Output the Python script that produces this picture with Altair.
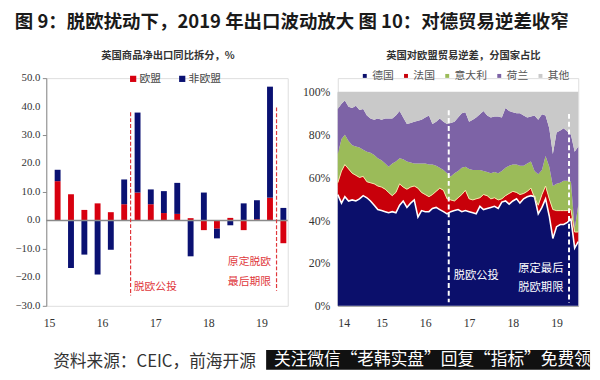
import altair as alt
import pandas as pd

# ---------------- text ----------------
header = "图 9：脱欧扰动下，2019 年出口波动放大 图 10：对德贸易逆差收窄"
left_title = "英国商品净出口同比拆分，%"
right_title = "英国对欧盟贸易逆差，分国家占比"
source_note = "资料来源：CEIC，前海开源"
watermark = "关注微信“老韩实盘”回复“指标”免费领"

# ---------------- left chart data (quarterly, %) ----------------
q_dates = ["2015-03-01", "2015-06-01", "2015-09-01", "2015-12-01",
           "2016-03-01", "2016-06-01", "2016-09-01", "2016-12-01",
           "2017-03-01", "2017-06-01", "2017-09-01", "2017-12-01",
           "2018-03-01", "2018-06-01", "2018-09-01", "2018-12-01",
           "2019-03-01", "2019-06-01"]
eu = [13.8, 9.2, 3.7, 6.0, 2.9, 5.7, 9.8, 5.7, 2.6, 2.3, 0.8, -3.4,
      -2.9, 0.9, -3.4, 0.4, 8.0, -8.0]
non_eu = [4.0, -16.7, -12.0, -19.0, -10.3, 8.7, 28.1, 5.2, 7.7, 10.9, -12.6, 9.8,
          -3.4, -1.7, 6.0, 6.7, 39.0, 4.4]
bar_series = ["欧盟", "非欧盟"]
bar_colors = ["#d7000f", "#0a1172"]
left_ticks = [2015, 2016, 2017, 2018, 2019]
left_y_ticks = [-30, -20, -10, 0, 10, 20, 30, 40, 50]

event_dates = ["2016-07-15", "2019-04-15"]
left_event_top = [38.0, 39.7]
left_event_bottom = [-26.4, -24.7]
left_note_a = ["脱欧公投"]
left_note_a_date = ["2016-08-06"]
left_note_a_y = [-23.4]
left_note_b = ["原定脱欧", "最后期限"]
left_note_b_date = ["2019-03-08", "2019-03-08"]
left_note_b_y = [-14.5, -21.6]

# ---------------- right chart data (monthly share, cumulative boundaries %) ----------------
months = pd.date_range("2014-01-01", periods=67, freq="MS")
countries = ["德国", "法国", "意大利", "荷兰", "其他"]
country_colors = ["#0b0f6b", "#c8000a", "#9bbb59", "#7d63a6", "#c9c9c9"]
de_top = [52, 48, 51, 49, 49.5, 49, 50, 51.5, 50.5, 49,
          47, 45, 44.5, 44, 43.5, 44, 43.5, 47, 49, 46,
          48, 49.5, 41.5, 44.5, 44, 44, 45.5, 46, 45, 44,
          43, 44, 44.5, 45, 44, 44.5, 44, 43.5, 43, 46.5,
          45, 45.5, 46, 46.5, 45.5, 48.5, 49, 47.5, 49, 50,
          48, 50, 51, 51.5, 51, 43, 46, 50, 42, 31.5,
          37, 38, 38, 39, 40.5, 27, 30]
fr_top = [57.5, 63, 66, 64, 62, 61, 60, 60.5, 58, 57.5,
          57, 56, 55.5, 54.5, 53, 51.5, 53, 57, 55.5, 54.5,
          55.5, 56, 55, 53, 52, 51, 52, 53.5, 55, 54,
          50, 49.5, 49, 50.5, 52, 54, 50, 49.5, 50, 50.5,
          52, 51.5, 50, 50.5, 49.5, 50, 51.5, 52.5, 53.5, 53,
          52, 52.5, 53.5, 55, 50.5, 47, 52, 56, 50, 45,
          44.5, 44.5, 44.5, 44.5, 45, 34.5, 34.5]
it_top = [71, 78, 80, 77, 75, 74.5, 74, 73, 72, 71.5,
          70.5, 69, 68, 66.5, 65, 66.5, 67.5, 69, 68.5, 67.5,
          67, 66.5, 66.5, 66.5, 66.5, 66, 66, 65.5, 64.5, 63.5,
          62, 60.5, 62, 63, 64.5, 65, 64, 63.5, 63.5, 63.5,
          63, 62.5, 62, 62.5, 62, 63, 64.5, 65.5, 66, 66,
          65.5, 65.5, 66.5, 67.5, 63, 61.5, 63.5, 70, 65, 56,
          57, 57.5, 58.5, 58.5, 58, 36, 47]
nl_top = [92, 94.5, 96, 93, 92.5, 93.5, 91.5, 92, 89, 87.5,
          87, 87.5, 87, 87.5, 87.5, 87.5, 89, 91, 88, 85,
          85.5, 86, 86.5, 87, 88, 89, 85, 86, 87.5, 86,
          85, 85.5, 86, 88, 90, 90.5, 86, 87, 88, 89.5,
          91, 89, 88, 88.5, 88.5, 88, 92.5, 91, 90.5, 90,
          90, 89, 88, 88.5, 89, 87, 89.5, 89, 83, 71,
          81, 82, 83, 81.5, 80, 72, 74.5]
right_ticks = [2014, 2015, 2016, 2017, 2018, 2019]
right_y_ticks = [0, 20, 40, 60, 80, 100]
right_event_top = [91.4, 89.7]
right_event_bottom = [1.7, 1.5]
right_note_a = ["脱欧公投"]
right_note_a_date = ["2016-08-25"]
right_note_a_y = [13.8]
right_note_b = ["原定最后", "脱欧期限"]
right_note_b_date = ["2019-02-27", "2019-02-27"]
right_note_b_y = [17.3, 8.1]

# ---------------- tables ----------------
bar_rows = []
for d, a, b in zip(q_dates, eu, non_eu):
    bar_rows.append({"date": d, "series": bar_series[0], "value": a, "ord": 0})
    bar_rows.append({"date": d, "series": bar_series[1], "value": b, "ord": 1})
bar_df = pd.DataFrame(bar_rows)

bounds = [[0] * len(months), de_top, fr_top, it_top, nl_top, [100] * len(months)]
area_rows = []
for k, c in enumerate(countries):
    for i, d in enumerate(months):
        area_rows.append({"date": d.strftime("%Y-%m-%d"), "country": c,
                          "lo": bounds[k][i], "hi": bounds[k + 1][i], "ord": k})
area_df = pd.DataFrame(area_rows)
line_df = pd.DataFrame({"date": [d.strftime("%Y-%m-%d") for d in months],
                        "de": de_top, "fr": fr_top})

SERIF = "Liberation Serif"
CJK = "Noto Sans CJK SC"

# ---------------- left chart ----------------
lx_scale = alt.Scale(domain=["2014-12-13", "2019-07-01"], padding=0)
lx = alt.X("date:T", scale=lx_scale,
           axis=alt.Axis(values=[alt.DateTime(year=y, month=1, date=1) for y in left_ticks],
                         format="%y", title=None, grid=False, domain=False, ticks=False, zindex=1,
                         labelPadding=12, labelFont=SERIF, labelFontSize=12, labelColor="#333"))
ly_scale = alt.Scale(domain=[-30, 50], nice=False)

bars = alt.Chart(bar_df).mark_bar(size=6).encode(
    x=lx,
    y=alt.Y("value:Q", stack="zero", scale=ly_scale,
            axis=alt.Axis(values=left_y_ticks, labels=False, title=None, grid=False, zindex=1,
                          tickSize=4, domainColor="#8a8a8a", tickColor="#8a8a8a")),
    color=alt.Color("series:N", scale=alt.Scale(domain=bar_series, range=bar_colors),
                    legend=alt.Legend(orient="none", legendX=83, legendY=-5, direction="horizontal",
                                      title=None, symbolType="square", symbolSize=40,
                                      symbolStrokeWidth=0, labelFont=CJK, labelFontSize=11,
                                      labelColor="#444", columnPadding=16, padding=0, labelOffset=1)),
    order=alt.Order("ord:Q"),
)
y_labels = alt.Chart(pd.DataFrame({"v": left_y_ticks})).mark_text(
    align="right", baseline="middle", font=SERIF, fontSize=11, color="#333").encode(
    x=alt.value(-6), y=alt.Y("v:Q", scale=ly_scale), text=alt.Text("v:Q", format=".1f"))
zero_rule = alt.Chart(pd.DataFrame({"y": [0]})).mark_rule(color="#8a8a8a", strokeWidth=1.5).encode(
    y=alt.Y("y:Q", scale=ly_scale))
left_events = alt.Chart(pd.DataFrame({"date": event_dates, "top": left_event_top,
                                      "bottom": left_event_bottom})).mark_rule(
    color="#e0383c", strokeDash=[4, 2], strokeWidth=1.2).encode(
    x=alt.X("date:T", scale=lx_scale), y=alt.Y("top:Q", scale=ly_scale), y2="bottom:Q")
left_text_a = alt.Chart(pd.DataFrame({"date": left_note_a_date, "y": left_note_a_y, "t": left_note_a})).mark_text(
    align="left", baseline="middle", font=CJK, fontSize=11, color="#e0383c").encode(
    x=alt.X("date:T", scale=lx_scale), y=alt.Y("y:Q", scale=ly_scale), text="t:N")
left_text_b = alt.Chart(pd.DataFrame({"date": left_note_b_date, "y": left_note_b_y, "t": left_note_b})).mark_text(
    align="right", baseline="middle", font=CJK, fontSize=11, color="#e0383c").encode(
    x=alt.X("date:T", scale=lx_scale), y=alt.Y("y:Q", scale=ly_scale), text="t:N")

canvas = alt.Chart(pd.DataFrame({"a": [0]})).mark_rect(color="white", opacity=0).encode(
    x=alt.value(-38), x2=alt.value(554), y=alt.value(-67), y2=alt.value(297))
header_text = alt.Chart(pd.DataFrame({"t": [header]})).mark_text(
    align="left", baseline="middle", font=CJK, fontSize=18.8, fontWeight="bold", color="#1a1a1a").encode(
    x=alt.value(-32), y=alt.value(-57), text="t:N")
left_title_text = alt.Chart(pd.DataFrame({"t": [left_title]})).mark_text(
    align="center", baseline="middle", font=CJK, fontSize=10.5, fontWeight="bold", color="#333").encode(
    x=alt.value(124), y=alt.value(-22), text="t:N")
source_text = alt.Chart(pd.DataFrame({"t": [source_note]})).mark_text(
    align="left", baseline="middle", font=CJK, fontSize=17, color="#333").encode(
    x=alt.value(7), y=alt.value(289), text="t:N")
black_box = alt.Chart(pd.DataFrame({"a": [0]})).mark_rect(color="#111111").encode(
    x=alt.value(224), x2=alt.value(554), y=alt.value(277), y2=alt.value(297))
watermark_text = alt.Chart(pd.DataFrame({"t": [watermark]})).mark_text(
    align="left", baseline="middle", font=CJK, fontSize=17, color="white").encode(
    x=alt.value(232), y=alt.value(287), text="t:N")

left = alt.layer(canvas, bars, y_labels, zero_rule, left_events, left_text_a, left_text_b,
                 header_text, left_title_text, source_text, black_box, watermark_text
                 ).properties(width=246, height=232)

# ---------------- right chart ----------------
rx_scale = alt.Scale(domain=["2014-01-01", "2019-07-01"], padding=0)
rx = alt.X("date:T", scale=rx_scale,
           axis=alt.Axis(values=[alt.DateTime(year=y, month=1, date=1) for y in right_ticks],
                         format="%y", title=None, grid=False, ticks=False, domainColor="#9a9a9a",
                         labelPadding=12, labelFont=SERIF, labelFontSize=12, labelColor="#333"))
ry_scale = alt.Scale(domain=[0, 100], range=[232, 14], nice=False)

areas = alt.Chart(area_df).mark_area(interpolate="linear").encode(
    x=rx,
    y=alt.Y("lo:Q", stack=None, scale=ry_scale,
            axis=alt.Axis(values=right_y_ticks, labelExpr="datum.value + '%'", title=None, grid=False,
                          ticks=False, labelPadding=8, domainColor="#9a9a9a",
                          labelFont=SERIF, labelFontSize=12, labelColor="#333")),
    y2="hi:Q",
    color=alt.Color("country:N", sort=countries,
                    scale=alt.Scale(domain=countries, range=country_colors),
                    legend=alt.Legend(orient="none", legendX=22, legendY=-8, direction="horizontal",
                                      title=None, symbolType="square", symbolSize=16,
                                      symbolStrokeWidth=0, labelFont=CJK, labelFontSize=11,
                                      labelColor="#555", columnPadding=7, padding=0, labelOffset=2)),
    detail="ord:N",
)
de_line = alt.Chart(line_df).mark_line(color="white", strokeWidth=1.6).encode(
    x=alt.X("date:T", scale=rx_scale), y=alt.Y("de:Q", scale=ry_scale))
fr_line = alt.Chart(line_df).mark_line(color="#f3e7a6", strokeWidth=1).encode(
    x=alt.X("date:T", scale=rx_scale), y=alt.Y("fr:Q", scale=ry_scale))
right_events = alt.Chart(pd.DataFrame({"date": event_dates, "top": right_event_top,
                                       "bottom": right_event_bottom})).mark_rule(
    color="white", strokeDash=[5, 3], strokeWidth=2).encode(
    x=alt.X("date:T", scale=rx_scale), y=alt.Y("top:Q", scale=ry_scale), y2="bottom:Q")
right_text_a = alt.Chart(pd.DataFrame({"date": right_note_a_date, "y": right_note_a_y, "t": right_note_a})).mark_text(
    align="left", baseline="middle", font=CJK, fontSize=11.5, color="white").encode(
    x=alt.X("date:T", scale=rx_scale), y=alt.Y("y:Q", scale=ry_scale), text="t:N")
right_text_b = alt.Chart(pd.DataFrame({"date": right_note_b_date, "y": right_note_b_y, "t": right_note_b})).mark_text(
    align="right", baseline="middle", font=CJK, fontSize=11.5, color="white").encode(
    x=alt.X("date:T", scale=rx_scale), y=alt.Y("y:Q", scale=ry_scale), text="t:N")
right_title_text = alt.Chart(pd.DataFrame({"t": [right_title]})).mark_text(
    align="center", baseline="middle", font=CJK, fontSize=10.5, fontWeight="bold", color="#333").encode(
    x=alt.value(128), y=alt.value(-22), text="t:N")

right = alt.layer(areas, de_line, fr_line, right_events, right_text_a, right_text_b,
                  right_title_text).properties(width=245, height=232)

chart = alt.hconcat(left, right, spacing=51, bounds="flush").resolve_scale(
    color="independent", x="independent", y="independent"
).properties(padding=0).configure_view(stroke=None).configure(font=CJK)

chart.save("out.html", embed_options={"renderer": "svg", "actions": False})
